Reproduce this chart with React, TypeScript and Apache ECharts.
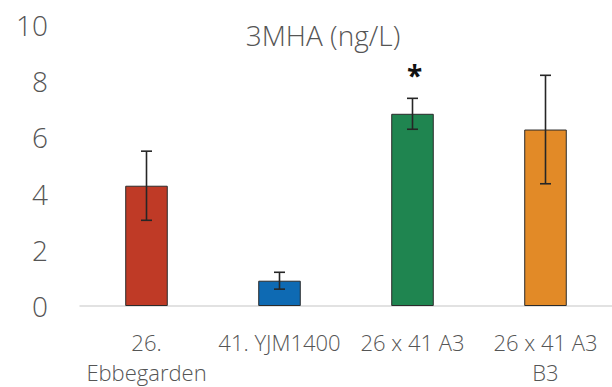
import React, { useEffect, useRef } from "react";
import * as echarts from "echarts";

// Strains / crosses on the x axis
const categories = ["26.\nEbbegarden", "41. YJM1400", "26 x 41 A3", "26 x 41 A3\nB3"];
// Mean 3MHA concentration (ng/L)
const means = [4.28, 0.9, 6.84, 6.28];
// Standard deviation for the error bars
const errors = [1.23, 0.3, 0.55, 1.93];
// Significance markers drawn above the error bars
const significance = ["", "", "*", ""];
// Bar fill colours
const barColors = ["#BF3A26", "#0E6AB3", "#1F8550", "#E28A27"];
// Y axis range
const yMin = 0;
const yMax = 10;
const yInterval = 2;

const TEXT = "#555555";
const FONT = "Open Sans";
const WEIGHT = 350;

export default function App() {
  const ref = useRef<HTMLDivElement>(null);

  useEffect(() => {
    if (!ref.current) return;
    const chart = echarts.init(ref.current, undefined, { renderer: "svg" });

    const errData = means.map((m, i) => [i, m - errors[i], m + errors[i]]);

    chart.setOption({
      animation: false,
      backgroundColor: "#ffffff",
      textStyle: { fontFamily: FONT },
      title: {
        text: "3MHA (ng/L)",
        left: 323,
        top: 20,
        textAlign: "center",
        padding: 0,
        textStyle: {
          fontFamily: FONT,
          fontSize: 28,
          fontWeight: WEIGHT,
          color: TEXT,
          lineHeight: 30,
        },
      },
      grid: { left: 80, right: -3, top: 25, bottom: 77, containLabel: false },
      xAxis: {
        type: "category",
        data: categories,
        axisLine: { show: true, lineStyle: { color: "#D9D9D9", width: 1.5 } },
        axisTick: { show: false },
        axisLabel: {
          interval: 0,
          fontFamily: FONT,
          fontSize: 22,
          fontWeight: WEIGHT,
          lineHeight: 30,
          margin: 21,
          color: TEXT,
        },
      },
      yAxis: {
        type: "value",
        min: yMin,
        max: yMax,
        interval: yInterval,
        axisLine: { show: false },
        axisTick: { show: false },
        splitLine: { show: false },
        axisLabel: {
          fontFamily: FONT,
          fontSize: 28,
          fontWeight: WEIGHT,
          margin: 32,
          color: TEXT,
        },
      },
      series: [
        {
          type: "bar",
          barWidth: "32%",
          data: means.map((v, i) => ({
            value: v,
            itemStyle: { color: barColors[i], borderColor: "#2b2b2b", borderWidth: 1 },
          })),
        },
        {
          type: "custom",
          z: 10,
          data: errData,
          renderItem: (params: any, api: any) => {
            const x = api.value(0);
            const lo = api.value(1);
            const hi = api.value(2);
            const top = api.coord([x, hi]);
            const bot = api.coord([x, lo]);
            const hw = 5.5;
            const style = { stroke: "#262626", lineWidth: 1.6 };
            const children: any[] = [
              { type: "line", shape: { x1: top[0], y1: top[1], x2: bot[0], y2: bot[1] }, style },
              { type: "line", shape: { x1: top[0] - hw, y1: top[1], x2: top[0] + hw, y2: top[1] }, style },
              { type: "line", shape: { x1: bot[0] - hw, y1: bot[1], x2: bot[0] + hw, y2: bot[1] }, style },
            ];
            const mark = significance[params.dataIndex];
            if (mark) {
              children.push({
                type: "text",
                x: top[0] + 2,
                y: top[1] - 23,
                style: {
                  text: mark,
                  fontFamily: FONT,
                  fontWeight: "bold",
                  fontSize: 28,
                  fill: "#111111",
                  align: "center",
                  verticalAlign: "middle",
                },
              });
            }
            return { type: "group", children };
          },
        },
      ],
    });

    return () => chart.dispose();
  }, []);

  return (
    <div
      ref={ref}
      style={{ position: "absolute", left: 0, top: 0, width: 612, height: 387 }}
    />
  );
}
